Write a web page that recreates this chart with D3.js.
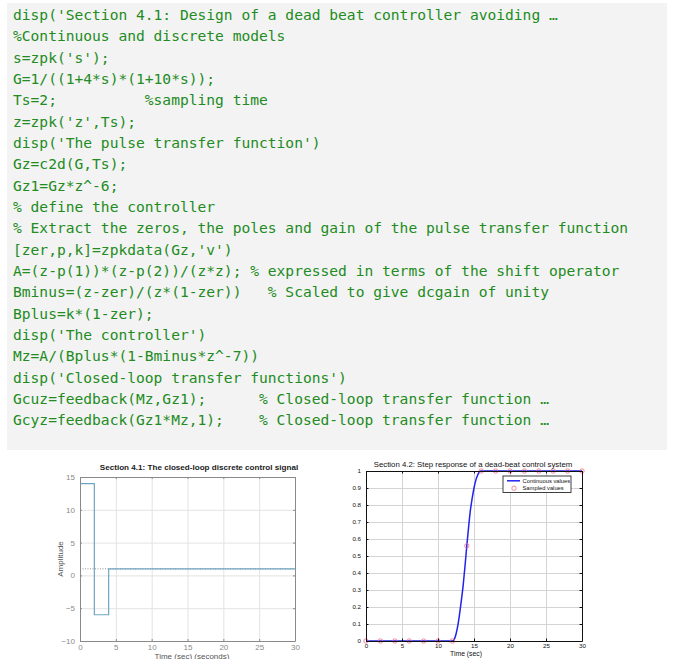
<!DOCTYPE html>
<html>
<head>
<meta charset="utf-8">
<script src="https://cdn.jsdelivr.net/npm/d3@7"></script>
<style>
  body { margin: 0; background: #fff; }
  svg { display: block; }
</style>
</head>
<body>
<script>
// code listing shown above the plots
var codeLines = [
  "disp('Section 4.1: Design of a dead beat controller avoiding \u2026",
  "%Continuous and discrete models",
  "s=zpk('s');",
  "G=1/((1+4*s)*(1+10*s));",
  "Ts=2;          %sampling time",
  "z=zpk('z',Ts);",
  "disp('The pulse transfer function')",
  "Gz=c2d(G,Ts);",
  "Gz1=Gz*z^-6;",
  "% define the controller",
  "% Extract the zeros, the poles and gain of the pulse transfer function",
  "[zer,p,k]=zpkdata(Gz,'v')",
  "A=(z-p(1))*(z-p(2))/(z*z); % expressed in terms of the shift operator",
  "Bminus=(z-zer)/(z*(1-zer))   % Scaled to give dcgain of unity",
  "Bplus=k*(1-zer);",
  "disp('The controller')",
  "Mz=A/(Bplus*(1-Bminus*z^-7))",
  "disp('Closed-loop transfer functions')",
  "Gcuz=feedback(Mz,Gz1);      % Closed-loop transfer function \u2026",
  "Gcyz=feedback(Gz1*Mz,1);    % Closed-loop transfer function \u2026"
];

// left plot: control signal (stairs)
var uTime = [0, 2, 4, 30];
var uValue = [14, -6, 1, 1];
var uFinal = 1;
var uXTicks = [0, 5, 10, 15, 20, 25, 30];
var uYTicks = [-10, -5, 0, 5, 10, 15];

// right plot: step response
var yTime = [0, 12, 12.25, 12.5, 12.75, 13, 13.25, 13.5, 13.75, 14, 14.25, 14.5, 14.75, 15, 15.25, 15.5, 15.75, 16, 30];
var yCont = [0, 0, 0.01, 0.04, 0.09, 0.16, 0.24, 0.33, 0.44, 0.56, 0.67, 0.77, 0.84, 0.90, 0.945, 0.975, 0.994, 1, 1];
var sampleTime = [0, 2, 4, 6, 8, 10, 12, 14, 16, 18, 20, 22, 24, 26, 28, 30];
var sampleValue = [0, 0, 0, 0, 0, 0, 0, 0.56, 1, 1, 1, 1, 1, 1, 1, 1];
var yXTicks = [0, 5, 10, 15, 20, 25, 30];
var yYTicks = [0, 0.1, 0.2, 0.3, 0.4, 0.5, 0.6, 0.7, 0.8, 0.9, 1];
var yYTickLabels = ['0', '0.1', '0.2', '0.3', '0.4', '0.5', '0.6', '0.7', '0.8', '0.9', '1'];
var legendLabels = ['Continuous values', 'Sampled values'];

var w = 677, h = 659;

var svg = d3.select('body').append('svg')
  .attr('width', w)
  .attr('height', h);

// ---- code block ----
svg.append('rect')
  .attr('x', 7).attr('y', 3)
  .attr('width', 660).attr('height', 447)
  .attr('fill', '#f3f3f3');

svg.append('g')
  .selectAll('text')
  .data(codeLines)
  .enter()
  .append('text')
  .attr('x', 13)
  .attr('y', function (d, i) { return 20 + i * 21.33; })
  .attr('font-family', 'DejaVu Sans Mono, monospace')
  .attr('font-size', '14.6px')
  .attr('fill', '#228b22')
  .attr('xml:space', 'preserve')
  .style('white-space', 'pre')
  .text(function (d) { return d; });

// ---- left plot ----
var x1 = d3.scaleLinear().domain([0, 30]).range([80, 295]);
var y1 = d3.scaleLinear().domain([-10, 15]).range([641, 477]);

var g1 = svg.append('g');

g1.append('rect')
  .attr('x', 80).attr('y', 477)
  .attr('width', 215).attr('height', 164)
  .attr('fill', '#fff');

// grid
g1.append('g')
  .attr('transform', 'translate(0,641)')
  .call(d3.axisBottom(x1).tickValues(uXTicks).tickSize(-164).tickFormat(''))
  .call(function (g) { g.select('.domain').remove(); })
  .selectAll('line').attr('stroke', '#e3e3e3');
g1.append('g')
  .attr('transform', 'translate(80,0)')
  .call(d3.axisLeft(y1).tickValues(uYTicks).tickSize(-215).tickFormat(''))
  .call(function (g) { g.select('.domain').remove(); })
  .selectAll('line').attr('stroke', '#e3e3e3');

// final value, dotted
g1.append('line')
  .attr('x1', x1(0)).attr('x2', x1(30))
  .attr('y1', y1(uFinal)).attr('y2', y1(uFinal))
  .attr('stroke', '#777')
  .attr('stroke-width', 0.8)
  .attr('stroke-dasharray', '1,1.5');

// signal
var stairs = d3.line()
  .x(function (d) { return x1(d[0]); })
  .y(function (d) { return y1(d[1]); })
  .curve(d3.curveStepAfter);

g1.append('path')
  .datum(d3.zip(uTime, uValue))
  .attr('d', stairs)
  .attr('fill', 'none')
  .attr('stroke', '#6ea6c2')
  .attr('stroke-width', 1.2);

// axes with inward ticks
function styleAxis(g, col, size) {
  g.select('.domain').attr('stroke', col);
  g.selectAll('line').attr('stroke', col);
  g.selectAll('text').attr('fill', col).attr('font-family', 'Liberation Sans, Arial, sans-serif').attr('font-size', size);
}

g1.append('g')
  .attr('transform', 'translate(0,641)')
  .call(d3.axisBottom(x1).tickValues(uXTicks).tickSizeInner(-2).tickSizeOuter(0).tickPadding(3))
  .call(styleAxis, '#8a8a8a', '8px');
g1.append('g')
  .attr('transform', 'translate(80,0)')
  .call(d3.axisLeft(y1).tickValues(uYTicks).tickSizeInner(-2).tickSizeOuter(0).tickPadding(5))
  .call(styleAxis, '#8a8a8a', '8px');
g1.append('g')
  .attr('transform', 'translate(0,477)')
  .call(d3.axisTop(x1).tickValues(uXTicks).tickSizeInner(-2).tickSizeOuter(0).tickFormat(''))
  .call(styleAxis, '#8a8a8a', '8px');
g1.append('g')
  .attr('transform', 'translate(295,0)')
  .call(d3.axisRight(y1).tickValues(uYTicks).tickSizeInner(-2).tickSizeOuter(0).tickFormat(''))
  .call(styleAxis, '#8a8a8a', '8px');

g1.append('text')
  .attr('x', 199).attr('y', 470)
  .attr('text-anchor', 'middle')
  .attr('font-family', 'Liberation Sans, Arial, sans-serif')
  .attr('font-size', '8.1px')
  .attr('font-weight', 'bold')
  .attr('fill', '#222')
  .text('Section 4.1: The closed-loop discrete control signal');

g1.append('text')
  .attr('x', 192).attr('y', 658.5)
  .attr('text-anchor', 'middle')
  .attr('font-family', 'Liberation Sans, Arial, sans-serif')
  .attr('font-size', '8px')
  .attr('fill', '#555')
  .text('Time (sec) (seconds)');

g1.append('text')
  .attr('transform', 'translate(63,559) rotate(-90)')
  .attr('text-anchor', 'middle')
  .attr('font-family', 'Liberation Sans, Arial, sans-serif')
  .attr('font-size', '8px')
  .attr('fill', '#555')
  .text('Amplitude');

// ---- right plot ----
var x2 = d3.scaleLinear().domain([0, 30]).range([366, 582]);
var y2 = d3.scaleLinear().domain([0, 1]).range([641, 471]);

var g2 = svg.append('g');

g2.append('g')
  .attr('transform', 'translate(0,641)')
  .call(d3.axisBottom(x2).tickValues(yXTicks).tickSize(-170).tickFormat(''))
  .call(function (g) { g.select('.domain').remove(); })
  .selectAll('line').attr('stroke', '#d4d4d4');
g2.append('g')
  .attr('transform', 'translate(366,0)')
  .call(d3.axisLeft(y2).tickValues(yYTicks).tickSize(-216).tickFormat(''))
  .call(function (g) { g.select('.domain').remove(); })
  .selectAll('line').attr('stroke', '#d4d4d4');

var line2 = d3.line()
  .x(function (d) { return x2(d[0]); })
  .y(function (d) { return y2(d[1]); })
  .curve(d3.curveMonotoneX);

g2.append('path')
  .datum(d3.zip(yTime, yCont))
  .attr('d', line2)
  .attr('fill', 'none')
  .attr('stroke', '#2222ee')
  .attr('stroke-width', 1.5);

g2.append('g')
  .selectAll('circle')
  .data(d3.zip(sampleTime, sampleValue))
  .enter()
  .append('circle')
  .attr('cx', function (d) { return x2(d[0]); })
  .attr('cy', function (d) { return y2(d[1]); })
  .attr('r', 2.2)
  .attr('fill', 'none')
  .attr('stroke', '#f06a8a')
  .attr('stroke-width', 0.8);

g2.append('g')
  .attr('transform', 'translate(0,641)')
  .call(d3.axisBottom(x2).tickValues(yXTicks).tickSizeInner(-2.5).tickSizeOuter(0).tickPadding(3))
  .call(styleAxis, '#111', '6.2px');
g2.append('g')
  .attr('transform', 'translate(366,0)')
  .call(d3.axisLeft(y2).tickValues(yYTicks).tickFormat(function (d, i) { return yYTickLabels[i]; })
    .tickSizeInner(-2.5).tickSizeOuter(0).tickPadding(5))
  .call(styleAxis, '#111', '6.2px');
g2.append('g')
  .attr('transform', 'translate(0,471)')
  .call(d3.axisTop(x2).tickValues(yXTicks).tickSizeInner(-2.5).tickSizeOuter(0).tickFormat(''))
  .call(styleAxis, '#111', '6.2px');
g2.append('g')
  .attr('transform', 'translate(582,0)')
  .call(d3.axisRight(y2).tickValues(yYTicks).tickSizeInner(-2.5).tickSizeOuter(0).tickFormat(''))
  .call(styleAxis, '#111', '6.2px');

g2.append('text')
  .attr('x', 473).attr('y', 467)
  .attr('text-anchor', 'middle')
  .attr('font-family', 'Liberation Sans, Arial, sans-serif')
  .attr('font-size', '7.8px')
  .attr('fill', '#111')
  .text('Section 4.2: Step response of a dead-beat control system');

g2.append('text')
  .attr('x', 466).attr('y', 656)
  .attr('text-anchor', 'middle')
  .attr('font-family', 'Liberation Sans, Arial, sans-serif')
  .attr('font-size', '6.8px')
  .attr('fill', '#111')
  .text('Time (sec)');

// legend
var lg = g2.append('g').attr('transform', 'translate(503,476)');
lg.append('rect')
  .attr('width', 68).attr('height', 16.5)
  .attr('fill', '#fff')
  .attr('stroke', '#111')
  .attr('stroke-width', 0.8);
lg.append('line')
  .attr('x1', 4).attr('x2', 17).attr('y1', 4.8).attr('y2', 4.8)
  .attr('stroke', '#2222ee').attr('stroke-width', 1.5);
lg.append('circle')
  .attr('cx', 11).attr('cy', 12.2).attr('r', 2.2)
  .attr('fill', 'none').attr('stroke', '#f06a8a').attr('stroke-width', 0.8);
lg.selectAll('text.lab')
  .data(legendLabels)
  .enter()
  .append('text')
  .attr('class', 'lab')
  .attr('x', 19.5)
  .attr('y', function (d, i) { return 6.8 + i * 7.5; })
  .attr('font-family', 'Liberation Sans, Arial, sans-serif')
  .attr('font-size', '5.8px')
  .attr('fill', '#111')
  .text(function (d) { return d; });
</script>
</body>
</html>
